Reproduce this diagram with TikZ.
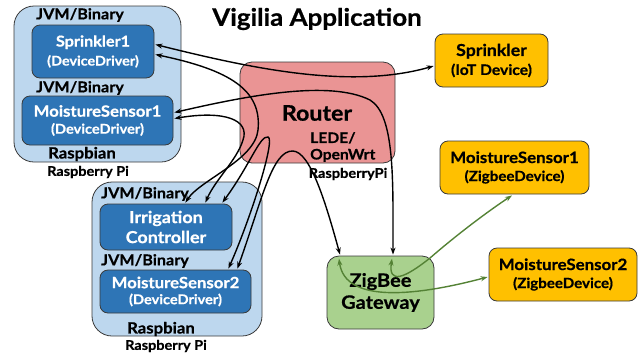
\documentclass[tikz,border=0pt]{standalone}
\usepackage{fontspec}
\setmainfont{Lato}[FakeStretch=1.08,BoldFeatures={FakeBold=0.6}]
\usetikzlibrary{arrows.meta,calc}
\definecolor{lblue}{HTML}{BDD7EE}
\definecolor{dblue}{HTML}{2E75B6}
\definecolor{routerred}{HTML}{EA9494}
\definecolor{iotorange}{HTML}{FFC000}
\definecolor{gwgreen}{HTML}{A9D18E}
\definecolor{arrgreen}{HTML}{548235}
\definecolor{bordergray}{HTML}{3A3A3A}
\newcommand{\fs}[1]{\fontsize{#1}{#1}\selectfont}
\begin{document}
\begin{tikzpicture}[x=1pt,y=-1pt,
  outerbox/.style={draw=bordergray,line width=0.8pt,fill=lblue,rounded corners=20pt,inner sep=0pt},
  innerbox/.style={draw=bordergray,line width=0.8pt,fill=dblue,rounded corners=8pt,inner sep=0pt,
     text=white,align=center,font=\bfseries\fontsize{15.5}{18}\selectfont},
  devbox/.style={draw=bordergray,line width=0.8pt,fill=iotorange,rounded corners=8pt,inner sep=0pt,
     align=center,font=\bfseries\fontsize{15.6}{19}\selectfont},
  lbl/.style={inner sep=0pt,font=\bfseries\fs{15}},
  conn/.style={line width=1.4pt,{Stealth[length=7pt,width=5pt]}-{Stealth[length=7pt,width=5pt]}},
  gconn/.style={conn,draw=arrgreen}]
\useasboundingbox (0,0) rectangle (642,354);
\node[inner sep=0pt,font=\bfseries\fs{24}] (title) at (317,19) {Vigilia Application};
% Raspberry Pi 1
\node[outerbox,minimum width=167pt,minimum height=156pt] (rpi1) at (97.5,84) {};
\node[lbl] (jvm1) at (80,15) {JVM/Binary};
\node[innerbox,minimum width=122pt,minimum height=53pt,font=\bfseries\fontsize{15}{18}\selectfont] (s1) at (93,51.5)
  {Sprinkler1\\[1pt]{\fs{13.3}(DeviceDriver)}};
\node[lbl] (jvm2) at (80,88) {JVM/Binary};
\node[innerbox,minimum width=151pt,minimum height=49pt] (ms1) at (97.5,120.5)
  {MoistureSensor1\\[-1pt]{\fs{13.5}(DeviceDriver)}};
\node[lbl,font=\bfseries\fs{15.5}] (rasp1) at (82,154) {Raspbian};
\node[lbl,font=\bfseries\fs{13.4}] (pi1) at (88,172) {Raspberry Pi};
% Raspberry Pi 2
\node[outerbox,minimum width=170pt,minimum height=154pt] (rpi2) at (177,259) {};
\node[lbl] (jvm3) at (145,194) {JVM/Binary};
\node[innerbox,minimum width=132pt,minimum height=46pt,font=\bfseries\fontsize{16.6}{20}\selectfont] (irr) at (166,227)
  {Irrigation\\Controller};
\node[lbl] (jvm4) at (145,261) {JVM/Binary};
\node[innerbox,minimum width=151pt,minimum height=43pt] (ms2) at (175.5,291.5)
  {MoistureSensor2\\[-2pt]{\fs{13.5}(DeviceDriver)}};
\node[lbl,font=\bfseries\fs{15.5}] (rasp2) at (161,329) {Raspbian};
\node[lbl,font=\bfseries\fs{13.4}] (pi2) at (166,346) {Raspberry Pi};
% Router
\node[draw=bordergray,line width=0.8pt,fill=routerred,rounded corners=12pt,minimum width=155pt,minimum height=101pt,inner sep=0pt] (router) at (317.5,112.5) {};
\node[inner sep=0pt,font=\bfseries\fs{21.5}] (routert) at (317,113) {Router};
\node[inner sep=0pt,font=\bfseries\fontsize{14.5}{16.5}\selectfont,align=left,anchor=north west] (lede) at (310,132) {LEDE/\\OpenWrt};
\node[lbl,font=\bfseries\fs{13.5}] (rpi3) at (348,174) {RaspberryPi};
% Devices
\node[devbox,minimum width=113pt,minimum height=53pt] (iot) at (491.5,60.5)
  {{\fs{16.4}Sprinkler}\\[0pt]{\fs{14.5}(IoT Device)}};
\node[devbox,minimum width=149pt,minimum height=53pt] (zms1) at (514.5,167.5)
  {MoistureSensor1\\[-1pt]{\fs{14}(ZigbeeDevice)}};
\node[devbox,minimum width=148pt,minimum height=53pt] (zms2) at (563,274.5)
  {MoistureSensor2\\[-1pt]{\fs{14}(ZigbeeDevice)}};
\node[draw=bordergray,line width=0.8pt,fill=gwgreen,rounded corners=12pt,minimum width=107pt,minimum height=73pt,inner sep=0pt,
  align=center,font=\bfseries\fontsize{18.5}{22}\selectfont] (gw) at (380.5,292.5) {ZigBee\\Gateway};
% connectors
\draw[conn] ($(s1.east)+(1,-7)$) .. controls (250,68) and (350,90) .. ($(iot.west)+(-1,5.5)$);
\draw[conn] ($(s1.east)+(1,3)$) .. controls (230,70) and (262,90) .. (258,130)
   .. controls (255,160) and (200,180) .. ($(irr.north east)+(-47,-1)$);
\draw[conn] ($(ms1.east)+(1,-8)$) .. controls (250,95) and (330,80) .. (370,100)
   .. controls (395,115) and (393,180) .. ($(gw.north)+(12.5,-1)$);
\draw[conn] ($(ms1.east)+(1,-2)$) .. controls (225,110) and (250,120) .. (243,140)
   .. controls (237,160) and (215,180) .. ($(irr.north east)+(-27,-1)$);
\draw[conn] ($(irr.north east)+(-10,-1)$) .. controls (250,165) and (260,135) .. (268,137)
   .. controls (276,139) and (250,220) .. ($(ms2.north east)+(-23,-1)$);
\draw[conn] ($(ms2.north east)+(-14,-1)$) .. controls (262,200) and (272,150) .. (293,151)
   .. controls (310,152) and (325,200) .. ($(gw.north)+(-40.5,-1)$);
\draw[gconn] ($(gw.north)+(11.5,3)$) .. controls (388,285) and (405,278) .. (430,258)
   .. controls (460,232) and (490,210) .. ($(zms1.south)+(-2.5,1)$);
\draw[gconn] ($(gw.north)+(-41.5,3)$) .. controls (345,305) and (420,295) .. ($(zms2.west)+(-1,2.5)$);
\end{tikzpicture}
\end{document}
